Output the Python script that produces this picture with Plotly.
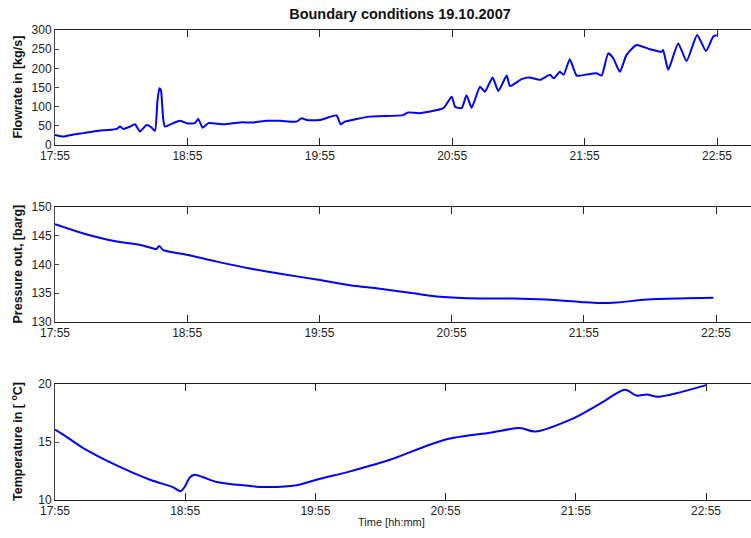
import plotly.graph_objects as go

# Time axis: minutes after 17:55
tick_minutes = [0, 60, 120, 180, 240, 300]
tick_labels = ["17:55", "18:55", "19:55", "20:55", "21:55", "22:55"]

# Flowrate in [kg/s]
flow_t = [0, 3.8, 8, 12.8, 16, 20.4, 24, 28, 29.5, 31, 34, 36.2, 38.5, 41.5, 43.5, 45.3,
          46.4, 47.3, 48, 49, 49.8, 53.6, 56.6, 59.7, 63.4, 64.9, 66.9, 69.5, 76.3, 83.8,
          90, 95.9, 102, 109.5, 111.8, 114, 120, 127.6, 129.4, 131.4, 142.7, 157.8, 160,
          165, 176, 179.8, 181.3, 184.3, 186.5, 188.8, 192.6, 194.8, 198.3, 200.9, 204.7,
          206.2, 211.5, 215, 219.8, 224.3, 226, 228.8, 230.5, 233.3, 236.4, 240.9, 245.4,
          247.7, 250.7, 253, 256, 259, 263.5, 269.6, 274.9, 275.6, 277.9, 282.4, 286.2,
          291, 295, 298.3, 299.8]
flow_v = [26, 22, 27, 31, 34, 38, 39, 42, 48, 42, 48, 54, 35, 52, 47, 37,
          113, 148, 143, 70, 48, 57, 63, 57, 57, 68, 45, 57, 54, 59,
          59, 63, 63, 61, 70, 65, 65, 77, 54, 61, 74, 78, 85,
          83, 96, 126, 100, 96, 130, 97, 152, 139, 176, 141, 181,
          154, 172, 176, 170, 183, 174, 191, 183, 224, 181, 184, 187,
          181, 239, 226, 191, 235, 261, 250, 243, 248, 196, 265, 219,
          287, 245, 283, 287]

# Pressure out [barg]
pres_t = [0, 12.9, 28, 38.6, 44.6, 46, 47.3, 49.2, 59.8, 73.4, 88.5, 103.6, 118.7, 133.9,
          147.5, 162.6, 174.8, 192.9, 208, 223, 238.3, 247.4, 255, 268.6, 283.7, 298.8]
pres_v = [147.0, 145.4, 144.0, 143.4, 142.8, 142.7, 143.2, 142.5, 141.7, 140.5, 139.3, 138.3,
          137.4, 136.4, 135.8, 135.0, 134.4, 134.1, 134.1, 133.9, 133.5, 133.3, 133.4, 133.9,
          134.1, 134.2]

# Temperature in [degC]
temp_t = [0, 3.8, 13, 28.4, 43.8, 54.5, 57.9, 59.9, 62.2, 64.5, 68.3, 74.5, 83.7, 96, 111.4,
          120.6, 136, 146.7, 154.4, 179.7, 200.5, 214.3, 221.2, 239.6, 251.2, 262.7, 268,
          272.7, 278, 300]
temp_v = [16.06, 15.63, 14.48, 12.99, 11.75, 11.09, 10.75, 11.18, 11.96, 12.18, 11.96, 11.55,
          11.32, 11.12, 11.27, 11.75, 12.47, 13.04, 13.47, 15.2, 15.8, 16.2, 15.9, 17.1, 18.3,
          19.5, 19.0, 19.1, 18.9, 19.9]

W, H = 751, 538
ML, MR, MT, MB = 55, 0, 30, 38
plot_h = H - MT - MB
plot_w = W - ML - MR


def ydom(top_px, bottom_px):
    return [(H - MB - bottom_px) / plot_h, (H - MB - top_px) / plot_h]


FONT = "Liberation Sans, Arial, Helvetica, sans-serif"


def line(smooth):
    return dict(color="#0000ff", width=2, shape="spline", smoothing=smooth)


fig = go.Figure()
fig.add_trace(go.Scatter(x=flow_t, y=flow_v, mode="lines", line=line(0.5), xaxis="x", yaxis="y"))
fig.add_trace(go.Scatter(x=pres_t, y=pres_v, mode="lines", line=line(0.8), xaxis="x2", yaxis="y2"))
fig.add_trace(go.Scatter(x=temp_t, y=temp_v, mode="lines", line=line(0.8), xaxis="x3", yaxis="y3"))

xcommon = dict(
    tickvals=tick_minutes, ticktext=tick_labels, ticks="inside", ticklen=7,
    tickcolor="#222", showline=True, linecolor="#222", linewidth=1, mirror="ticks",
    showgrid=False, zeroline=False, tickfont=dict(family=FONT, size=12, color="#222"),
    domain=[0, 1],
)
ycommon = dict(
    ticks="inside", ticklen=4, tickcolor="#444", showline=True, linecolor="#444",
    linewidth=1, mirror=False, showgrid=False, zeroline=False,
    tickfont=dict(family=FONT, size=12, color="#222"),
)

# minutes per pixel differ slightly between the three panels
px_per_min = [662 / 300, 661 / 300, 651 / 300]

fig.update_layout(
    width=W, height=H,
    margin=dict(l=ML, r=MR, t=MT, b=MB),
    paper_bgcolor="white", plot_bgcolor="white",
    showlegend=False,
    xaxis=dict(xcommon, anchor="y", range=[0, plot_w / px_per_min[0]]),
    xaxis2=dict(xcommon, anchor="y2", range=[0, plot_w / px_per_min[1]]),
    xaxis3=dict(xcommon, anchor="y3", range=[0, plot_w / px_per_min[2]]),
    yaxis=dict(ycommon, anchor="x", domain=ydom(30, 145), range=[0, 300],
               tickvals=[0, 50, 100, 150, 200, 250, 300]),
    yaxis2=dict(ycommon, anchor="x2", domain=ydom(207, 322), range=[130, 150],
                tickvals=[130, 135, 140, 145, 150]),
    yaxis3=dict(ycommon, anchor="x3", domain=ydom(384, 500), range=[10, 20],
                tickvals=[10, 15, 20]),
    title=dict(text="<b>Boundary conditions 19.10.2007</b>", x=400 / W, xref="container",
               xanchor="center", y=1 - 14 / H, yref="container", yanchor="middle",
               font=dict(family=FONT, size=14.5, color="#111")),
)

ytitles = [("<b>Flowrate in [kg/s]</b>", (30 + 145) / 2),
           ("<b>Pressure out, [barg]</b>", (207 + 322) / 2),
           ("<b>Temperature in [ <sup>o</sup>C]</b>", (384 + 500) / 2)]
for text, ypx in ytitles:
    fig.add_annotation(text=text, xref="paper", yref="paper",
                       x=(17 - ML) / plot_w, y=(H - MB - ypx) / plot_h,
                       xanchor="center", yanchor="middle", textangle=-90, showarrow=False,
                       font=dict(family=FONT, size=12.5, color="#111"))

fig.add_annotation(text="Time [hh:mm]", xref="paper", yref="paper",
                   x=(391 - ML) / plot_w, y=(H - MB - 522) / plot_h,
                   xanchor="center", yanchor="middle", showarrow=False,
                   font=dict(family=FONT, size=11, color="#222"))

fig.write_html("out.html")
